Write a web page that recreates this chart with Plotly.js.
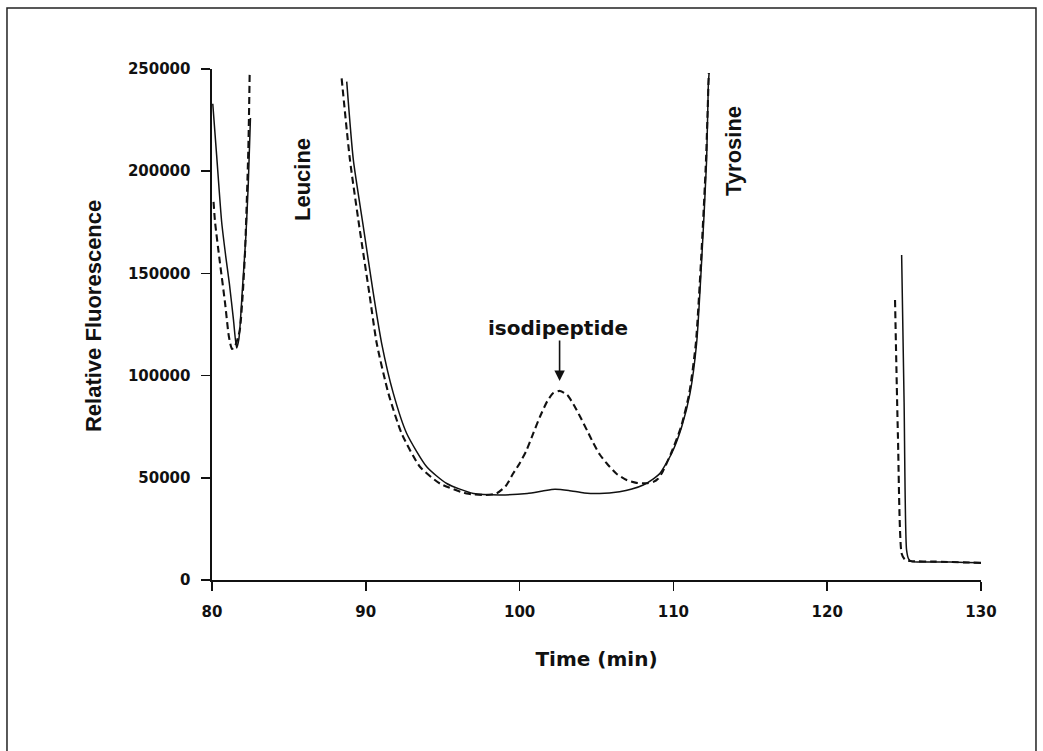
<!DOCTYPE html>
<html>
<head>
<meta charset="utf-8">
<script src="https://cdn.plot.ly/plotly-3.0.1.min.js"></script>
<style>html,body{margin:0;padding:0;background:#fff;}#chart{width:1043px;height:751px;}</style>
</head>
<body>
<div id="chart"></div>
<script>
// Solid trace (control) – segments separated by null gaps
const solidTime = [80.05,80.3,80.63,80.9,81.13,81.4,81.6,81.75,82.0,82.2,82.36,82.5,
  null,
  88.76,89.19,89.84,90.49,91.03,91.79,92.66,93.96,95.26,97.0,98.7,100.5,101.5,102.3,103.2,104.2,105.2,106.5,107.3,108.04,108.7,109.13,109.89,110.54,111.08,111.51,111.84,112.16,112.27,112.32,
  null,
  124.84,125.0,125.16,125.3,125.5,126.5,128,129,130];
const solidValue = [233000,208000,175000,158000,145000,127000,113500,118000,145000,168000,194000,226000,
  null,
  243800,205500,172800,140200,115800,91300,71700,55400,47200,42300,41600,42300,43500,44400,43800,42600,42300,43200,44500,46500,49500,52200,62000,75000,91300,115800,156600,205500,242200,248000,
  null,
  159000,87000,14700,10200,9000,8800,8800,8600,8400];

// Dashed trace (with isodipeptide)
const dashTime = [80.1,80.2,80.52,80.85,81.1,81.3,81.5,81.8,82.0,82.15,82.36,82.45,
  null,
  88.43,88.97,89.58,90.23,90.71,91.47,92.33,93.52,94.82,96.56,97.8,98.51,99.1,99.59,100.0,100.46,100.9,101.33,101.8,102.2,102.63,103.1,103.5,103.93,104.4,104.8,105.2,105.66,106.3,106.96,107.6,108.26,108.7,109.0,109.3,109.85,110.5,111.03,111.46,111.8,112.12,112.3,
  null,
  124.41,124.6,124.84,125.05,125.4,127,130];
const dashValue = [185000,175000,155000,135500,119000,113000,114500,122000,140000,161000,210000,248000,
  null,
  245400,205500,172800,140200,115800,91300,71700,55400,47200,42300,41600,42400,46000,52200,57000,63600,72000,80000,87500,91500,92500,90500,86000,80000,73000,66900,61500,57100,52000,48900,47500,47300,48000,49500,53000,62000,75000,91300,115800,156600,205500,248000,
  null,
  137000,70000,13000,10000,9300,9000,8400];

const xTickVals = [80,90,100,110,120,130];
const xTickText = ['80','90','100','110','120','130'];
const yTickVals = [0,50000,100000,150000,200000,250000];
const yTickText = ['0','50000','100000','150000','200000','250000'];

const labelNames = ['Leucine','Tyrosine','isodipeptide'];

const tickFont = {family:'DejaVu Sans, Arial, sans-serif', size:15, color:'#111', weight:'bold'};

const traces = [
  {x: solidTime, y: solidValue, type:'scatter', mode:'lines', connectgaps:false,
   line:{color:'#111', width:1.5, dash:'solid', shape:'spline', smoothing:0.6}, hoverinfo:'skip'},
  {x: dashTime, y: dashValue, type:'scatter', mode:'lines', connectgaps:false,
   line:{color:'#111', width:2.1, dash:'7px,4px', shape:'spline', smoothing:0.6}, hoverinfo:'skip'}
];

const layout = {
  width:1043, height:751,
  margin:{l:212, r:62, t:69, b:171},
  paper_bgcolor:'#fff', plot_bgcolor:'#fff',
  showlegend:false,
  xaxis:{range:[80,130], tickvals:xTickVals, ticktext:xTickText,
    showgrid:false, zeroline:false, showline:true, linecolor:'#111', linewidth:2,
    ticks:'outside', ticklen:9, tickwidth:1.5, tickcolor:'#111', ticklabelstandoff:8,
    tickfont:tickFont,
    title:{text:'Time (min)', standoff:32, font:{family:'DejaVu Sans, Arial, sans-serif', size:20, color:'#111', weight:'bold'}}},
  yaxis:{range:[0,250000], tickvals:yTickVals, ticktext:yTickText,
    showgrid:false, zeroline:false, showline:true, linecolor:'#111', linewidth:2.5,
    ticks:'outside', ticklen:9, tickwidth:1.5, tickcolor:'#111', ticklabelstandoff:7,
    tickfont:tickFont},
  shapes:[
    {type:'rect', xref:'paper', yref:'paper', x0:-0.2666, x1:1.0715, y0:-0.345, y1:1.1194,
     line:{color:'#222', width:1.5}, fillcolor:'rgba(0,0,0,0)', layer:'below'}
  ],
  annotations:[
    {x:-0.1547, y:0.5166, xref:'paper', yref:'paper', xanchor:'center', yanchor:'middle',
     text:'Relative Fluorescence', showarrow:false, textangle:-90,
     font:{family:'Liberation Sans, Arial, sans-serif', size:22, color:'#111', weight:'bold'}},
    {x:85.92, y:195700, xref:'x', yref:'y', xanchor:'center', yanchor:'middle', text:labelNames[0], showarrow:false, textangle:-90,
     font:{family:'Liberation Sans, Arial, sans-serif', size:22, color:'#111', weight:'bold'}},
    {x:113.94, y:209900, xref:'x', yref:'y', xanchor:'center', yanchor:'middle', text:labelNames[1], showarrow:false, textangle:-90,
     font:{family:'Liberation Sans, Arial, sans-serif', size:22, color:'#111', weight:'bold'}},
    {x:102.5, y:123300, xref:'x', yref:'y', xanchor:'center', yanchor:'middle', text:labelNames[2], showarrow:false,
     font:{family:'DejaVu Sans, Arial, sans-serif', size:20, color:'#111', weight:'bold'}},
    {x:102.6, y:97400, xref:'x', yref:'y', text:'', showarrow:true, ax:0, ay:-42,
     arrowhead:2, arrowsize:1.3, arrowwidth:1.6, arrowcolor:'#111'}
  ]
};

Plotly.newPlot('chart', traces, layout, {displayModeBar:false, staticPlot:true});
</script>
</body>
</html>
